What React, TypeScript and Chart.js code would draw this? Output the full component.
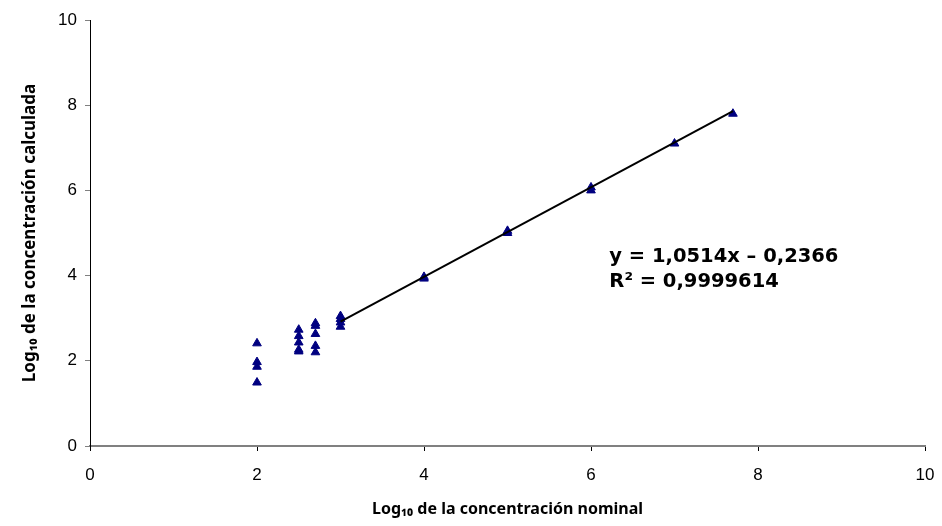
import React, { useEffect, useRef } from "react";
import { Chart, registerables } from "chart.js";

Chart.register(...registerables);

const nominalX: number[] = [
  2, 2, 2, 2,
  2.5, 2.5, 2.5, 2.5, 2.5,
  2.7, 2.7, 2.7, 2.7, 2.7,
  3, 3, 3, 3,
  4, 4,
  5, 5,
  6, 6,
  7,
  7.7,
];
const calculatedY: number[] = [
  2.41, 1.97, 1.86, 1.49,
  2.73, 2.58, 2.43, 2.26, 2.22,
  2.88, 2.82, 2.63, 2.35, 2.2,
  3.05, 2.98, 2.9, 2.8,
  3.93, 3.97,
  5.0, 5.05,
  6.0, 6.07,
  7.1,
  7.8,
];
const slope = 1.0514;
const intercept = -0.2366;
const trendRange: number[] = [3, 7.7];
const equationLines: string[] = ["y = 1,0514x – 0,2366", "R² = 0,9999614"];
const xTicks: number[] = [0, 2, 4, 6, 8, 10];
const yTicks: number[] = [0, 2, 4, 6, 8, 10];

const titleFont = "'Noto Sans', 'DejaVu Sans', sans-serif";
const eqFont = "'DejaVu Sans', sans-serif";
const tickFont = "'Liberation Sans', Arial, sans-serif";

const equationPlugin = {
  id: "equation",
  afterDatasetsDraw(chart: any) {
    const { ctx, scales } = chart;
    const x = scales.x.getPixelForValue(6.22);
    const y1 = scales.y.getPixelForValue(4.44);
    const y2 = scales.y.getPixelForValue(3.85);
    ctx.save();
    ctx.fillStyle = "#000";
    ctx.font = `bold 19.5px ${eqFont}`;
    ctx.textBaseline = "middle";
    ctx.textAlign = "left";
    ctx.fillText(equationLines[0], x, y1);
    ctx.fillText(equationLines[1], x, y2);
    ctx.restore();
  },
};

export default function App() {
  const ref = useRef<HTMLCanvasElement>(null);
  useEffect(() => {
    document.body.style.margin = "0";
    const points = nominalX.map((x, i) => ({ x, y: calculatedY[i] }));
    const trend = trendRange.map((x) => ({ x, y: slope * x + intercept }));
    const chart = new Chart(ref.current as HTMLCanvasElement, {
      type: "scatter",
      data: {
        datasets: [
          {
            type: "line",
            data: trend,
            borderColor: "#000",
            borderWidth: 2,
            pointRadius: 0,
            showLine: true,
            fill: false,
            order: 1,
          } as any,
          {
            data: points,
            pointStyle: "triangle",
            pointRadius: 5,
            backgroundColor: "#000080",
            borderColor: "#000080",
            borderWidth: 1,
            order: 2,
          },
        ],
      },
      options: {
        animation: false,
        responsive: false,
        maintainAspectRatio: false,
        layout: { padding: { top: 20, right: 17, left: 0, bottom: 0 } },
        plugins: { legend: { display: false }, tooltip: { enabled: false } },
        scales: {
          x: {
            type: "linear",
            min: 0,
            max: 10,
            afterBuildTicks: (s: any) => {
              s.ticks = xTicks.map((v) => ({ value: v }));
            },
            afterFit: (s: any) => {
              s.height = 80;
              s.paddingRight = 0;
              s.paddingLeft = 0;
            },
            border: { display: true, color: "#808080", width: 2 },
            grid: { drawOnChartArea: false, drawTicks: true, tickLength: 5, color: "#000" },
            ticks: {
              color: "#000",
              font: { family: tickFont, size: 17 },
              padding: 14,
            },
            title: {
              display: true,
              text: "Log₁₀ de la concentración nominal",
              color: "#000",
              font: { family: titleFont, size: 16, weight: "bold" },
              padding: { top: 0, bottom: 7 },
            },
          },
          y: {
            type: "linear",
            min: 0,
            max: 10,
            afterBuildTicks: (s: any) => {
              s.ticks = yTicks.map((v) => ({ value: v }));
            },
            afterFit: (s: any) => {
              s.width = 90;
              s.paddingTop = 0;
              s.paddingBottom = 0;
            },
            border: { display: true, color: "#000", width: 1 },
            grid: { drawOnChartArea: false, drawTicks: true, tickLength: 5, color: "#808080" },
            ticks: {
              color: "#000",
              font: { family: tickFont, size: 17 },
              padding: 8,
            },
            title: {
              display: true,
              text: "Log₁₀ de la concentración calculada",
              color: "#000",
              font: { family: titleFont, size: 17, weight: "bold" },
              padding: { top: 20, bottom: 0 },
            },
          },
        },
      },
      plugins: [equationPlugin],
    });
    return () => chart.destroy();
  }, []);
  return (
    <div style={{ position: "absolute", left: 0, top: 0, width: 942, height: 526 }}>
      <canvas ref={ref} width={942} height={526} style={{ width: 942, height: 526 }} />
    </div>
  );
}
